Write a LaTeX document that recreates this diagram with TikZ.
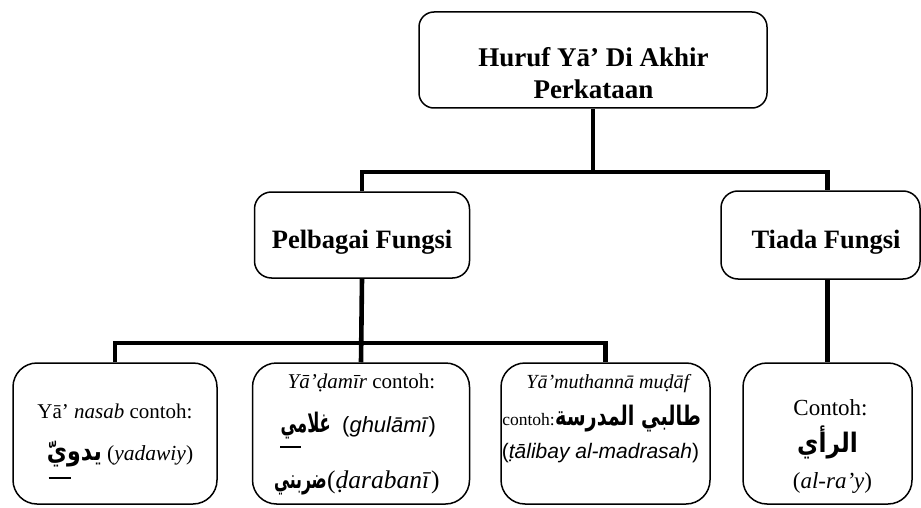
\documentclass[tikz,border=0pt]{standalone}
\usepackage{fontspec}
\usepackage{graphicx}
\setmainfont{Liberation Serif}
\newfontfamily\arsans{Liberation Sans}
\newfontfamily\arabicfont[Script=Arabic]{DejaVu Sans}
\TeXXeTstate=1
\newcommand{\ar}[2]{\scalebox{#1}[1.12]{\arabicfont\bfseries #2}}
\begin{document}
\begin{tikzpicture}[x=1pt,y=-1pt,
  box/.style={draw=black, line width=1.5pt, rounded corners=15pt, fill=white, inner sep=0pt},
  lowbox/.style={box, rounded corners=24pt},
  conn/.style={line width=4.6pt, line join=miter, line cap=butt},
  ulin/.style={line width=1.5pt},
  txt/.style={anchor=base, inner sep=0pt},
  big/.style={font=\fontsize{27}{32}\selectfont\bfseries},
  mid/.style={font=\fontsize{26.5}{32}\selectfont\bfseries},
  sml/.style={font=\fontsize{21}{25}\selectfont},
  arf/.style={font=\fontsize{24}{28}\selectfont}]
\useasboundingbox (0,0) rectangle (921,508);

% boxes
\node[box, minimum width=348pt, minimum height=96pt] (top) at (593,60) {};
\node[box, rounded corners=17pt, minimum width=215pt, minimum height=86pt] (pel) at (362,235) {};
\node[box, rounded corners=17pt, minimum width=199pt, minimum height=88pt] (tia) at (820.5,235) {};
\node[lowbox, minimum width=204pt, minimum height=141pt] (b1) at (115,433.5) {};
\node[lowbox, minimum width=217pt, minimum height=141pt] (b2) at (361,433.5) {};
\node[lowbox, minimum width=209pt, minimum height=141pt] (b3) at (605.5,433.5) {};
\node[lowbox, minimum width=169pt, minimum height=141pt] (b4) at (827.5,433.5) {};

% connectors
\coordinate (h1) at (593,172);
\coordinate (h2) at (362,343);
\draw[conn] (top.south) -- (h1);
\draw[conn] (pel.north) |- (h1) -| (b4.north |- tia.north);
\draw[conn] (b4.north |- tia.south) -- (b4.north);
\draw[conn] (pel.south) -- (b2.north);
\draw[conn] (b1.north) |- (h2) -| (b3.north);

% texts
\node[txt, big] (t1) at (593.5,67) {Huruf Yā’ Di Akhir};
\node[txt, big] (t2) at (593.5,99) {Perkataan};
\node[txt, mid] (p1) at (362,248) {Pelbagai Fungsi};
\node[txt, mid] (q1) at (826,248) {Tiada Fungsi};

% box 1
\node[txt, sml] (b1a) at (115,418) {Yā’ \textit{nasab} contoh:};
\node[txt, arf, anchor=base east] (a1) at (102,460) {\ar{0.92}{\beginR يدويّ\endR}};
\node[txt, font=\fontsize{21.5}{25}\selectfont, anchor=base west] (b1b) at (107,460) {(\textit{yadawiy})};
\draw[ulin] ([xshift=2pt,yshift=-18pt]a1.base west) -- ++(22,0);

% box 2
\node[txt, sml] (b2a) at (361.5,388) {\textit{Yā’ḍamīr} contoh:};
\node[txt, arf, anchor=base east] (a2) at (331,432) {\ar{0.68}{\beginR غلامي\endR}};
\node[txt, font=\fontsize{22}{26}\selectfont, anchor=base west] (b2b) at (342,432) {\arsans(\textit{ghulāmī})};
\draw[ulin] ([xshift=0pt,yshift=-15pt]a2.base west) -- ++(21,0);
\node[txt, arf, anchor=base east] (a3) at (327,488) {\ar{0.65}{\beginR ضربني\endR}};
\node[txt, font=\fontsize{25.5}{30}\selectfont, anchor=base west] (b2c) at (327,488) {(\textit{ḍarabanī})};

% box 3
\node[txt, font=\fontsize{20}{24}\selectfont] (b3a) at (609,388) {\textit{Yā’muthannā muḍāf}};
\node[txt, font=\fontsize{17.5}{21}\selectfont, anchor=base east] (b3b) at (555,425) {contoh:};
\node[txt, arf, anchor=base west] (a4) at (555,425) {\ar{0.8}{\beginR طالبي المدرسة\endR}};
\node[txt, sml] (b3c) at (600.5,458) {\arsans(\textit{ṭālibay al-madrasah})};

% box 4
\node[txt, font=\fontsize{23}{27}\selectfont] (b4a) at (830.5,415) {Contoh:};
\node[txt, arf] (a5) at (827.5,452) {\ar{0.97}{\beginR الرأي\endR}};
\node[txt, font=\fontsize{23}{27}\selectfont] (b4b) at (832.5,488) {(\textit{al-ra’y})};
\end{tikzpicture}
\end{document}
